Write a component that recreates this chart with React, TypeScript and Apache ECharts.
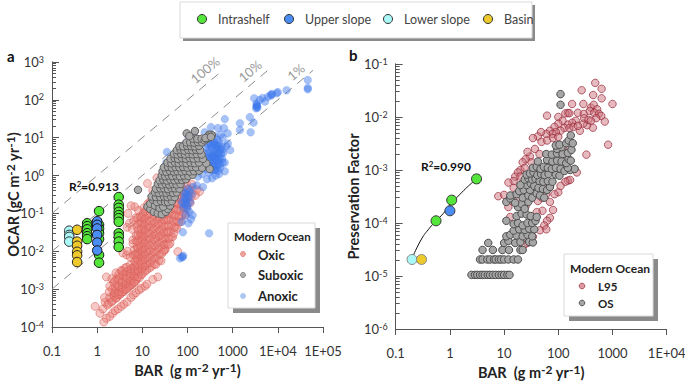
import React, { useEffect, useRef } from "react";
import * as echarts from "echarts";

const FONT = "Lato";
const xTicksA = ["0.1", "1", "10", "100", "1000", "1E+04", "1E+05"];
const xTicksB = ["0.1", "1", "10", "100", "1000", "1E+04"];

const oxic: number[][] = [
  [0.9,3.5e-4],[1.15,2.3e-4],[1.4,1.35e-4],[1.6,1.7e-4],[1.9,1.9e-4],[2.2,2.3e-4],[2.5,2.7e-4],[2.9,3e-4],[3.4,3.5e-4],[3.9,4e-4],[4.6,4.6e-4],[5.6,6e-4],[6.3,7e-4],[7.2,8e-4],[8.5,9.5e-4],[9.5,1.05e-3],[11.5,1.2e-3],[12.6,1.35e-3],[17,1.8e-3],[22,2.1e-3],
  [1.35,3e-4],[1.5,4.5e-4],[1.45,6e-4],[1.7,3.8e-4],[1.8,4.2e-4],[1.9,6e-4],[1.85,8.5e-4],[2.1,4.6e-4],[2.2,5e-4],[2.3,7e-4],[2.15,1e-3],[2.3,1.5e-3],[1.6,2.1e-3],[1.9,1.2e-3],[2.1,1.9e-3],
  [2.6,5.7e-4],[2.7,6e-4],[2.6,9e-4],[2.8,1.3e-3],[2.7,1.9e-3],[2.6,2.7e-3],[3.1,7e-4],[3.3,7.5e-4],[3.2,1e-3],[3.4,1.5e-3],[3.2,2.2e-3],[3.4,3.1e-3],[3.7,9e-3],[3.9,8.6e-4],[4,9.5e-4],[3.9,1.25e-3],[4.1,1.8e-3],[4,2.6e-3],[4.1,3.6e-3],[4.5,8e-3],[4.7,1e-2],
  [4.8,1.05e-3],[5,1.15e-3],[4.9,1.5e-3],[5.2,2.2e-3],[5,3.1e-3],[5.4,4.4e-3],[5.4,7e-3],[5.9,1.3e-3],[6,1.4e-3],[6.2,1.9e-3],[5.8,2.7e-3],[6.2,3.6e-3],[6.3,8e-3],[6.6,1.1e-2],[6.2,1.6e-2],[6.2,2e-2],
  [7.1,1.6e-3],[7.4,1.8e-3],[7.2,2.4e-3],[7.6,3.3e-3],[7.2,4.7e-3],[7.5,6.5e-3],[7.4,9e-3],[7.7,1.3e-2],[7.3,2.6e-2],[7.4,1.9e-2],[8.6,2e-3],[9,2.8e-3],[8.7,4e-3],[9.1,5.6e-3],[8.6,8e-3],[9,1.1e-2],[8.8,1.5e-2],[8.6,2.2e-2],[9.1,3e-2],
  [4.6,4.3e-2],[5.2,5.5e-2],[6,3.8e-2],[6.4,6.5e-2],[7.6,4.4e-2],[7.2,7.7e-2],[8.7,5.8e-2],[9,8.5e-2],[4.8,0.1],[6.8,0.15],[5.6,0.16],[8.2,0.12],
  [10.2,2.6e-3],[10.6,3.8e-3],[10.1,5.5e-3],[10.8,7.8e-3],[10.4,1.1e-2],[10.7,1.6e-2],[10.3,2.3e-2],[10.8,3.3e-2],[10.3,4.7e-2],[10.8,6.8e-2],[10.4,0.1],[10.8,0.14],
  [12.5,3.2e-3],[13,4.6e-3],[12.6,6.6e-3],[13.2,9.5e-3],[12.5,1.4e-2],[13.1,2e-2],[12.7,2.9e-2],[13.2,4.2e-2],[12.6,6e-2],[13.1,8.8e-2],[12.6,0.13],[13.2,0.18],
  [16,4e-3],[16.6,5.8e-3],[16,8.2e-3],[16.8,1.2e-2],[16.1,1.7e-2],[16.7,2.5e-2],[16.1,3.6e-2],[16.7,5.2e-2],[16.2,7.5e-2],[16.8,0.11],[16,0.16],[16.6,0.23],[20,0.3],[21,0.87],
  [20,4.5e-3],[21,7e-3],[20.3,1e-2],[21.4,1.5e-2],[20.4,2.2e-2],[21.2,3.2e-2],[20.5,4.6e-2],[21.3,6.7e-2],[20.4,9.7e-2],[21.2,0.14],[20.5,0.2],[21.4,0.29],[24,0.45],[13,0.62],[17,0.4],
  [26,5.6e-3],[27,8.7e-3],[26,1.3e-2],[27.5,1.9e-2],[26.2,2.7e-2],[27.3,3.9e-2],[26,5.7e-2],[27.2,8.3e-2],[26.3,0.12],[27.2,0.17],[26.2,0.25],[27.4,0.36],[30,0.52],
  [32,1.1e-2],[34,1.6e-2],[32.5,2.3e-2],[34.5,3.3e-2],[32.5,4.8e-2],[34.2,7e-2],[32.5,0.1],[34.3,0.15],[33,0.21],[34.5,0.31],[36,0.46],
  [41,1.6e-2],[44,2.4e-2],[42,3.4e-2],[44.5,5e-2],[42,7.2e-2],[44,0.1],[42,0.15],[44,0.22],[42,0.32],[44,0.48],[47,2.4e-2],[31,1.1e-2],
  [54,4.3e-2],[57,6.2e-2],[54,9e-2],[57,0.13],[54,0.19],[57,0.28],[54,0.4],[61,9.8e-3],[58,4e-2],
  [70,6e-2],[73,8.7e-2],[70,0.13],[74,0.18],[70,0.27],[74,0.38],[70,0.55],
  [90,0.09],[94,0.14],[90,0.2],[95,0.28],[90,0.4],[95,0.6],[88,0.8],
  [115,0.19],[122,0.28],[116,0.42],[124,0.6],[150,0.3],[158,0.42],[185,0.38],
  [2.4,6.5e-4],[2.45,8e-4],[2.5,1.15e-3],[2.45,1.6e-3],[2.9,7.2e-4],[3,8.5e-4],[3,1.2e-3],[3,1.8e-3],[3,2.5e-3],[3.6,8.4e-4],[3.6,1.1e-3],[3.6,1.6e-3],[3.7,2.3e-3],[3.6,3e-3],[4.4,1e-3],[4.4,1.4e-3],[4.5,2e-3],[4.5,2.9e-3],[4.5,3.8e-3],[5.4,1.25e-3],[5.5,1.7e-3],[5.5,2.5e-3],[5.6,3.4e-3],[6.6,1.5e-3],[6.7,2.2e-3],[6.8,3e-3],[6.8,4.2e-3],[6.8,5.5e-3],[7,8e-3],
  [8,2.1e-3],[8.1,3e-3],[7.9,4.3e-3],[8,6e-3],[8.1,8.5e-3],[8,1.2e-2],[7.9,1.8e-2],[8,2.6e-2],[8.1,3.7e-2],[8,5.2e-2],[7.9,7.5e-2],[9.5,2.4e-3],[9.6,3.4e-3],[9.5,4.8e-3],[9.7,7e-3],[9.6,1e-2],[9.5,1.4e-2],[9.7,2e-2],[9.6,2.8e-2],[9.5,4e-2],[9.7,5.8e-2],[9.6,8e-2],
  [11.5,3e-3],[11.7,4.2e-3],[11.4,6e-3],[11.6,8.5e-3],[11.5,1.2e-2],[11.7,1.7e-2],[11.4,2.5e-2],[11.6,3.6e-2],[11.5,5.2e-2],[11.7,7.5e-2],[11.4,0.11],[14.5,3.6e-3],[14.8,5e-3],[14.3,7.2e-3],[14.7,1.05e-2],[14.5,1.5e-2],[14.8,2.2e-2],[14.3,3.1e-2],[14.6,4.5e-2],[14.5,6.5e-2],[14.8,9.5e-2],[14.3,0.14],[14.6,0.2],
  [18.5,4.6e-3],[18.9,6.5e-3],[18.2,9.5e-3],[18.7,1.4e-2],[18.5,2e-2],[18.9,2.8e-2],[18.2,4e-2],[18.7,5.8e-2],[18.5,8.5e-2],[18.9,0.12],[18.2,0.18],[18.7,0.26],[23.5,5.8e-3],[24,8.3e-3],[23,1.2e-2],[23.8,1.7e-2],[23.5,2.5e-2],[24,3.6e-2],[23,5.2e-2],[23.8,7.5e-2],[23.5,0.11],[24,0.16],[23,0.23],
  [29.5,1e-2],[30,1.5e-2],[29,2.2e-2],[29.8,3.2e-2],[29.5,4.6e-2],[30,6.7e-2],[29,0.1],[29.8,0.14],[29.5,0.2],[38,1.5e-2],[38.6,2.2e-2],[37.5,3.2e-2],[38.3,4.6e-2],[38,6.7e-2],[38.6,0.1],[37.5,0.14],[38.3,0.21],[50,3e-2],[51,4.3e-2],[49,6.2e-2],[50.5,9e-2],[50,0.13],[51,0.19],[64,6e-2],[65,8.5e-2],[63,0.12],[64.5,0.18],[64,0.26],[82,0.1],[84,0.15],[81,0.22],[83,0.32],[105,0.2],[107,0.3],[104,0.45],
];

const anoxic: number[][] = [
  [46000,335],[46000,205],[46000,190],[15600,180],[10000,160],[9500,150],[7400,143],[7000,130],[6000,120],[4600,112],[4000,100],[3400,80],[3400,69],[3300,60],[3500,62],[5200,90],[3000,110],[3400,72],[3500,66],[7200,138],[2400,35],[2900,25],[1450,24],[1450,16],[2500,14],[670,31],[470,18],[775,13],[640,18],[330,19],[240,14],[670,2.2],[670,1.3],[880,4.7],[780,7],[720,6],[35,4.2],[29,1.25],[40,1.9],[34,2.2],[30,0.8],
  [600,10],[540,12],[450,9],[400,11],[620,4],[560,6],[500,7.5],[460,5],[420,6.5],[380,8],[340,9],[310,7],[350,5.5],[400,4.2],[450,3.2],[520,3],[580,2.8],[300,4.5],[260,5.5],[230,4],[260,3],[310,2.6],[360,2.5],[410,2.2],[470,1.9],[530,1.6],[280,2],[330,1.7],[380,1.4],[220,2.4],[190,2.8],[250,1.5],[300,1.2],[420,1],[500,1.1],[350,0.85],[210,1.1],[170,0.95],[270,0.8],[160,6],[120,9],[100,12],[90,7],[140,13],
  [280,6.5],[330,6.2],[380,6.6],[430,5.8],[480,6.2],[540,4.8],[290,3.8],[340,3.9],[380,3.4],[430,3.8],[490,4],[560,3.8],[280,2.8],[320,3.2],[360,3.1],[400,2.9],[440,2.6],[490,2.5],[300,1.9],[350,2],[390,1.8],[440,1.6],[340,1.4],[410,1.4],[470,1.35],[300,1.5],[240,1.9],[590,4.9],[600,2.2],[520,2],
  [220,0.5],[160,0.55],[130,0.5],[100,0.45],[85,0.36],[100,0.3],[125,0.32],[85,0.27],[75,0.2],[95,0.22],[115,0.2],[100,0.16],[80,0.14],[110,0.11],[90,0.09],[120,0.07],[105,0.055],[130,0.09],[75,0.06],[79,0.032],[300,0.03],[75,7e-3],[80,7.6e-3],[78,7e-3],[68,6.5e-3],
  [92,0.34],[110,0.38],[88,0.24],[105,0.25],[80,0.18],[92,0.17],[100,0.13],
];

const suboxic: number[][] = [
  [8,0.42],[146,15],[13,0.15],[15,0.13],[18,0.11],[22,0.1],[27,0.095],[33,0.11],[37,0.13],[15,0.18],[19,0.16],[24,0.14],[29,0.15],[41,0.16],[17,0.23],[21,0.2],[26,0.21],[32,0.2],[37,0.2],[45,0.21],
  [16,0.28],[20,0.27],[25,0.27],[30,0.28],[36,0.27],[43,0.28],[52,0.27],[19,0.36],[23,0.35],[28,0.36],[34,0.35],[40,0.37],[48,0.35],[58,0.36],[20,0.45],[25,0.46],[30,0.46],[37,0.44],[44,0.47],[53,0.46],[66,0.45],
  [22,0.6],[27,0.58],[33,0.6],[39,0.58],[47,0.6],[57,0.58],[70,0.6],[24,0.75],[29,0.78],[35,0.74],[42,0.78],[51,0.75],[62,0.78],[76,0.76],[92,0.8],[27,1],[32,0.96],[38,1],[46,0.97],[56,1],[68,0.96],[84,1],[105,0.98],[130,1.05],
  [28,1.3],[34,1.26],[41,1.32],[50,1.27],[60,1.3],[74,1.28],[90,1.32],[112,1.28],[140,1.3],[180,1.35],[30,1.65],[37,1.7],[45,1.62],[54,1.68],[66,1.65],[80,1.7],[100,1.63],[124,1.7],[155,1.65],[210,1.6],[310,1.5],
  [36,2.2],[44,2.1],[53,2.2],[64,2.12],[78,2.2],[95,2.12],[118,2.2],[145,2.12],[180,2.2],[260,2.1],[42,2.8],[52,2.9],[62,2.75],[75,2.9],[92,2.78],[112,2.9],[136,2.8],[170,2.85],[220,2.75],
  [50,3.7],[60,3.6],[72,3.75],[88,3.6],[106,3.75],[130,3.65],[160,3.7],[205,3.6],[58,4.7],[70,4.8],[85,4.6],[104,4.8],[128,4.65],[155,4.8],[190,4.7],[66,6],[80,5.9],[98,6.1],[120,6],[145,5.9],[180,6.1],[95,7.5],[115,7.6],[140,7.4],[170,7.6],[210,7.5],[130,9.5],[165,9.3],[205,9.4],[240,8.5],[260,9.2],[290,10],[320,11.8],[346,11.8],[300,12],[280,10.7],[250,9.8],[330,10.5],[96,13],[110,11],
];

const shelfIntraA: number[][] = [
  [3,0.27],[3,0.17],[3,0.14],[3,0.11],[3,0.09],[3,0.075],[3,0.06],[3,0.03],[3,0.024],[3,0.018],[3,0.013],
  [1.1,0.115],[1.1,0.05],[1.1,0.04],[1.1,0.03],[1.1,0.021],[1.1,8e-3],[1.1,5e-3],
  [0.6,0.055],[0.6,0.046],[0.6,0.038],[0.6,0.03],[0.6,0.025],[0.6,0.021],
];
const shelfUpperA: number[][] = [[1,0.062],[1,0.05],[1,0.04],[1,0.027],[1,0.017],[1,0.0105]];
const shelfLowerA: number[][] = [[0.24,0.035],[0.24,0.027],[0.24,0.024],[0.24,0.018]];
const shelfBasinA: number[][] = [[0.36,0.037],[0.36,0.018],[0.36,0.014],[0.36,0.0097],[0.36,0.0078],[0.36,0.0052]];

const line100 = [[0.1,0.1],[600,600]];
const line10 = [[0.1,0.01],[6000,600]];
const line1 = [[0.1,0.001],[60000,600]];

const l95: number[][] = [
  [480,0.044],[270,0.032],[630,0.034],[440,0.026],[1000,0.0176],[180,0.0176],[290,0.0176],[630,0.0225],[62,0.0106],[830,0.003],[330,0.00195],[220,9e-4],
  [150,0.0119],[135,0.0117],[160,0.0118],[100,0.01],[230,0.012],[295,0.0114],[400,0.015],[450,0.017],[520,0.014],[380,0.013],[460,0.012],[560,0.0115],[620,0.0105],[720,0.0082],[500,0.0095],[435,0.0063],[340,0.007],[290,0.0075],[250,0.0055],[300,0.0095],[360,0.0088],[400,0.0085],[210,0.0085],[180,0.0078],[150,0.0072],[120,0.0085],[100,0.0075],[85,0.0065],[130,0.0062],[110,0.0055],[90,0.0052],[70,0.0055],[160,0.0062],[190,0.0065],[230,0.0068],[78,0.0048],[60,0.0048],[48,0.0052],[42,0.0043],[34,0.004],[49,0.0034],[62,0.0036],[80,0.004],[100,0.0042],[37,0.0025],[30,0.0018],[45,0.002],[25,0.0016],[22,0.0014],[27,0.0022],[32,0.0014],[20,0.001],[24,0.0011],[18,0.0009],[16,0.00075],[15,0.00062],[12,0.00058],[20,0.00075],[160,0.0024],[120,0.0022],[100,0.0016],[140,0.0015],[130,0.0011],[80,0.0012],[60,0.0011],
  [7.8,3.2e-4],[10,3.4e-4],[13,1.3e-4],[80,1.76e-4],[70,2.5e-4],[51,1.7e-4],[70,1.25e-4],[62,1.1e-4],[55,9e-5],[46,7.3e-5],[60,7.6e-5],[40,1.6e-4],[32,1.3e-4],[25,2.1e-4],[42,2.6e-4],[27,4.2e-5],[23,3.8e-5],[34,5.5e-5],
  [150,6.3e-4],[165,6.5e-4],[135,6e-4],[100,3.8e-4],[85,3.5e-4],[110,5e-4],[70,4.8e-4],[60,3.5e-4],[50,3e-4],[42,4.2e-4],[55,5.6e-4],[30,6.5e-4],[38,6.8e-4],[17,3e-4],[12,2e-4],[15,4.6e-4],[23,4.8e-4],[14,2.6e-4],
];

const os: number[][] = [
  [2.5,1.05e-5],[2.9,1.05e-5],[3.2,1.05e-5],[3.6,1.05e-5],[4,1.05e-5],[4.4,1.05e-5],[5,1.05e-5],[5.5,1.05e-5],[6.2,1.05e-5],[7,1.05e-5],[8,1.05e-5],[9,1.05e-5],[10,1.05e-5],[11.5,1.05e-5],[12.6,1.05e-5],
  [3.6,2.05e-5],[4,2.05e-5],[4.9,2.05e-5],[5.5,2.05e-5],[6.5,2.05e-5],[7,2.05e-5],[8,2.05e-5],[8.8,2.05e-5],[10,2.05e-5],[12,2.05e-5],[15,2.05e-5],[18,2.05e-5],
  [4,3.1e-5],[6.2,3.1e-5],[9.3,3.1e-5],[12.3,3.1e-5],[20,3.1e-5],[22,3.1e-5],[5.1,4.2e-5],[10,4.2e-5],[12,4.6e-5],[16,4.2e-5],[20,4.4e-5],[29,4.4e-5],[34,4.3e-5],
  [11,5.6e-5],[13,6e-5],[17,5.8e-5],[22,5.6e-5],[27,6e-5],[33,5.6e-5],[15,7.2e-5],[19,7.6e-5],[24,7.4e-5],[29,7.8e-5],[36,7.6e-5],[11,1.1e-4],[15,9.5e-5],[18,1e-4],[22,9e-5],[27,1e-4],[33,1e-4],[38,1.1e-4],[17,1.35e-4],[21,1.5e-4],[26,1.45e-4],[31,1.35e-4],[40,1.3e-4],
  [18,2e-4],[21,2.3e-4],[24,1.85e-4],[28,2.5e-4],[22,3e-4],[11,2.5e-4],[13,2.9e-4],[16,2.4e-4],[13,3.3e-4],[17,3.5e-4],[19,4e-4],[23,4.2e-4],[28,3.3e-4],[33,3e-4],[30,4.2e-4],[40,3.6e-4],[46,3.3e-4],[55,3e-4],[26,5.2e-4],[31,5.6e-4],[36,5e-4],[43,4.6e-4],[52,4.4e-4],[62,4.2e-4],[70,4.8e-4],
  [20,5.2e-4],[24,6.6e-4],[28,7e-4],[33,6.6e-4],[38,6.8e-4],[45,6.2e-4],[53,6e-4],[64,6.2e-4],[78,6e-4],[26,8.2e-4],[30,8.6e-4],[35,9e-4],[41,8e-4],[48,8.4e-4],[56,8e-4],[66,8.4e-4],[90,8.2e-4],[105,7.8e-4],[34,1.1e-3],[40,1.15e-3],[47,1.05e-3],[54,1.15e-3],[64,1.1e-3],[76,1.05e-3],[90,1.1e-3],[110,1.05e-3],[130,9.6e-4],[165,1e-3],[200,1.05e-3],[150,1.1e-3],
  [42,1.45e-3],[62,1.55e-3],[78,1.45e-3],[95,1.5e-3],[115,1.45e-3],[140,1.35e-3],[60,2e-3],[76,1.95e-3],[95,2.05e-3],[120,2e-3],[155,1.6e-3],[170,1.5e-3],[95,2.5e-3],[115,2.7e-3],[150,2.1e-3],[175,2.4e-3],[90,2.9e-3],[105,3e-3],[140,3.2e-3],[155,3.6e-3],[170,4.5e-3],[185,3.2e-3],[110,0.027],[110,0.017],
];

const intraB: number[][] = [[3.1,6.8e-4],[1.08,2.7e-4],[0.555,1.1e-4]];
const upperB: number[][] = [[1,1.7e-4]];
const lowerB: number[][] = [[0.2,2.05e-5]];
const basinB: number[][] = [[0.3,2.05e-5]];
const fitB: number[][] = [[0.21,2.4e-5],[0.3,5e-5],[0.42,8e-5],[0.555,1.1e-4],[0.75,1.5e-4],[1,2.2e-4],[1.5,3.4e-4],[2.2,5e-4],[3.1,6.8e-4]];

const C = {
  intra: "#54e63a", upper: "#4c8df5", lower: "#a9f7f7", basin: "#eec92c",
  axis: "#555555", text: "#333333",
};

const minorValues = (lo: number, hi: number) => {
  const out: number[] = [];
  for (let e = lo; e < hi; e++) for (let m = 2; m < 10; m++) out.push(m * Math.pow(10, e));
  return out;
};

const yLabel = (v: number) => `{b|10}{s|${Math.round(Math.log10(v))}}`;
const yLabelRich = {
  b: { fontFamily: FONT, fontSize: 13, color: C.text },
  s: { fontFamily: FONT, fontSize: 9, color: C.text, verticalAlign: "top" as const, padding: [0, 0, 6, 0] },
};
const nameRich = {
  b: { fontFamily: FONT, fontSize: 14.5, fontWeight: "bold" as const, color: "#222" },
  s: { fontFamily: FONT, fontSize: 12, fontWeight: "bold" as const, color: "#222", verticalAlign: "top" as const, padding: [0, 0, 6, 0] },
};

function xAxis(gridIndex: number, max: number, labels: string[]) {
  return {
    type: "log", logBase: 10, gridIndex, min: 0.1, max, interval: 1,
    name: "{b|BAR  (g m}{s|-2}{b| yr}{s|-1}{b|)}",
    nameLocation: "middle", nameGap: 34, nameTextStyle: { rich: nameRich },
    axisLine: { show: true, onZero: false, lineStyle: { color: C.axis, width: 1 } },
    axisTick: { show: true, length: 6, lineStyle: { color: C.axis } },
    axisLabel: {
      margin: 17, fontFamily: FONT, fontSize: 13, color: C.text,
      formatter: (v: number) => labels[Math.round(Math.log10(v)) + 1] ?? "",
    },
    splitLine: { show: false }, minorTick: { show: false },
  };
}
function yAxisMain(gridIndex: number, min: number, max: number, name: string, nameGap: number) {
  return {
    type: "log", logBase: 10, gridIndex, min, max, interval: 1, position: "left",
    name, nameLocation: "middle", nameGap, nameMoveOverlap: false, nameTextStyle: { rich: nameRich },
    axisLine: { show: true, onZero: false, lineStyle: { color: C.axis, width: 1 } },
    axisTick: { show: true, inside: true, length: 7, lineStyle: { color: C.axis } },
    axisLabel: { margin: 8, formatter: yLabel, rich: yLabelRich },
    splitLine: { show: false },
  };
}
function yAxisMinor(gridIndex: number, min: number, max: number, lo: number, hi: number) {
  return {
    type: "log", logBase: 10, gridIndex, min, max, interval: 1, position: "left", offset: 0,
    axisLine: { show: true, onZero: false, lineStyle: { color: C.axis, width: 1 } },
    axisTick: { show: true, inside: true, length: 4, customValues: minorValues(lo, hi), lineStyle: { color: C.axis } },
    axisLabel: { show: false }, splitLine: { show: false },
  };
}

function dash(data: number[][]) {
  return {
    type: "line", xAxisIndex: 0, yAxisIndex: 0, data, symbol: "none", silent: true, z: 1,
    lineStyle: { color: "#8c8c8c", width: 1, type: [9, 7] },
  };
}
function dots(data: number[][], x: number, y: number, size: number, color: string, border: string, bw: number, z: number) {
  return {
    type: "scatter", xAxisIndex: x, yAxisIndex: y, data, symbolSize: size, z, large: false,
    itemStyle: { color, borderColor: border, borderWidth: bw, opacity: 1 },
  };
}

function legendBox(x: number, y: number, w: number, h: number, off: number) {
  return [
    { type: "rect", shape: { x: x + off, y: y + off, width: w, height: h }, style: { fill: "#8a8a8a" }, z: 20 },
    { type: "rect", shape: { x, y, width: w, height: h }, style: { fill: "#fff", stroke: "#d9d9d9", lineWidth: 1 }, z: 21 },
  ];
}
const label = (x: number, y: number, text: string, size: number, weight: string, color = "#222") => ({
  type: "text", x, y, z: 23,
  style: { text, fontFamily: FONT, fontSize: size, fontWeight: weight, fill: color, verticalAlign: "middle" },
});
const dot = (cx: number, cy: number, r: number, fill: string, stroke: string, lw = 1) => ({
  type: "circle", shape: { cx, cy, r }, style: { fill, stroke, lineWidth: lw }, z: 23,
});
const slanted = (x: number, y: number, text: string) => ({
  type: "text", x, y, rotation: (40 * Math.PI) / 180, z: 5,
  style: { text, fontFamily: FONT, fontSize: 13, fill: "#9a9a9a", align: "center", verticalAlign: "middle" },
});
const r2 = (x: number, y: number, val: string) => ({
  type: "text", x, y, z: 6,
  style: {
    text: `{b|R}{s|2}{b|=${val}}`, align: "left", verticalAlign: "middle",
    rich: {
      b: { fontFamily: FONT, fontSize: 12, fontWeight: "bold", fill: "#111" },
      s: { fontFamily: FONT, fontSize: 8, fontWeight: "bold", fill: "#111", verticalAlign: "top" },
    },
  },
});

export default function App() {
  const ref = useRef<HTMLDivElement>(null);
  useEffect(() => {
    document.body.style.margin = "0";
    const chart = echarts.init(ref.current!, undefined, { renderer: "svg" });
    const redA = "rgba(233,125,118,0.42)", redAB = "rgba(214,90,82,0.5)";
    const blueA = "rgba(60,120,235,0.46)";
    chart.setOption({
      animation: false,
      backgroundColor: "#fff",
      grid: [
        { left: 52, top: 62, width: 271, height: 265, outerBoundsMode: "none" },
        { left: 395.7, top: 64, width: 271, height: 265, outerBoundsMode: "none" },
      ],
      xAxis: [xAxis(0, 1e5, xTicksA), xAxis(1, 1e4, xTicksB)],
      yAxis: [
        yAxisMain(0, 1e-4, 1e3, "{b|OCAR (gC m}{s|-2}{b| yr}{s|-1}{b|)}", 30),
        yAxisMinor(0, 1e-4, 1e3, -4, 3),
        yAxisMain(1, 1e-6, 1e-1, "{b|Preservation Factor}", 35),
        yAxisMinor(1, 1e-6, 1e-1, -6, -1),
      ],
      series: [
        dash(line100), dash(line10), dash(line1),
        dots(oxic, 0, 0, 8, redA, redAB, 1, 2),
        dots(anoxic, 0, 0, 8, blueA, "rgba(60,120,235,0.1)", 1, 3),
        dots(suboxic, 0, 0, 7.5, "#a8a8a8", "#5e5e5e", 1, 4),
        dots(shelfIntraA, 0, 0, 9.5, C.intra, "#111", 1, 7),
        dots(shelfUpperA, 0, 0, 9.5, C.upper, "#111", 1, 8),
        dots(shelfLowerA, 0, 0, 9.5, C.lower, "#333", 1, 8),
        dots(shelfBasinA, 0, 0, 9.5, C.basin, "#222", 1, 9),
        dots(l95, 1, 2, 7.5, "rgba(205,115,125,0.5)", "rgba(150,40,55,0.7)", 1, 2),
        dots(os, 1, 2, 7.5, "#a6a6a6", "#4d4d4d", 1, 4),
        { type: "line", xAxisIndex: 1, yAxisIndex: 2, data: fitB, symbol: "none", smooth: true, z: 5, lineStyle: { color: "#111", width: 1 } },
        dots(intraB, 1, 2, 10, C.intra, "#333", 1, 7),
        dots(upperB, 1, 2, 10, C.upper, "#333", 1, 8),
        dots(lowerB, 1, 2, 10, C.lower, "#888", 1, 8),
        dots(basinB, 1, 2, 10, C.basin, "#888", 1, 8),
      ],
      graphic: [
        ...legendBox(180, 2, 352, 36, 3),
        dot(202, 19, 4.5, C.intra, "#333"), label(218, 19, "Intrashelf", 12.5, "normal", "#444"),
        dot(289, 19, 4.5, C.upper, "#333"), label(305, 19, "Upper slope", 12.5, "normal", "#444"),
        dot(388, 19, 4.5, C.lower, "#333"), label(404, 19, "Lower slope", 12.5, "normal", "#444"),
        dot(488, 19, 4.5, C.basin, "#333"), label(504, 19, "Basin", 12.5, "normal", "#444"),
        label(7, 56, "a", 15, "bold", "#111"),
        label(349, 55, "b", 15, "bold", "#111"),
        slanted(205, 70, "100%"), slanted(250, 71, "10%"), slanted(296, 72, "1%"),
        r2(69, 186, "0.913"), r2(421, 166, "0.990"),
        ...legendBox(228, 223, 87, 85, 5),
        label(234, 236, "Modern Ocean", 11.5, "bold"),
        dot(243, 254, 2.5, "#eda29d", "#e58a84"), label(258, 255, "Oxic", 13, "bold"),
        dot(243, 275, 2.5, "#b0b0b0", "#888"), label(258, 275, "Suboxic", 13, "bold"),
        dot(243, 296, 2.5, "#aac8f2", "#aac8f2"), label(258, 296, "Anoxic", 13, "bold"),
        ...legendBox(564, 254, 89, 62, 5),
        label(570, 268, "Modern Ocean", 12, "bold"),
        dot(582, 286, 2.8, "#dc9aa2", "#b0505c"), label(598, 286, "L95", 11.5, "bold"),
        dot(582, 303, 2.8, "#a6a6a6", "#555"), label(598, 303, "OS", 11.5, "bold"),
      ],
    });
    return () => chart.dispose();
  }, []);
  return <div ref={ref} style={{ width: 685, height: 382 }} />;
}
